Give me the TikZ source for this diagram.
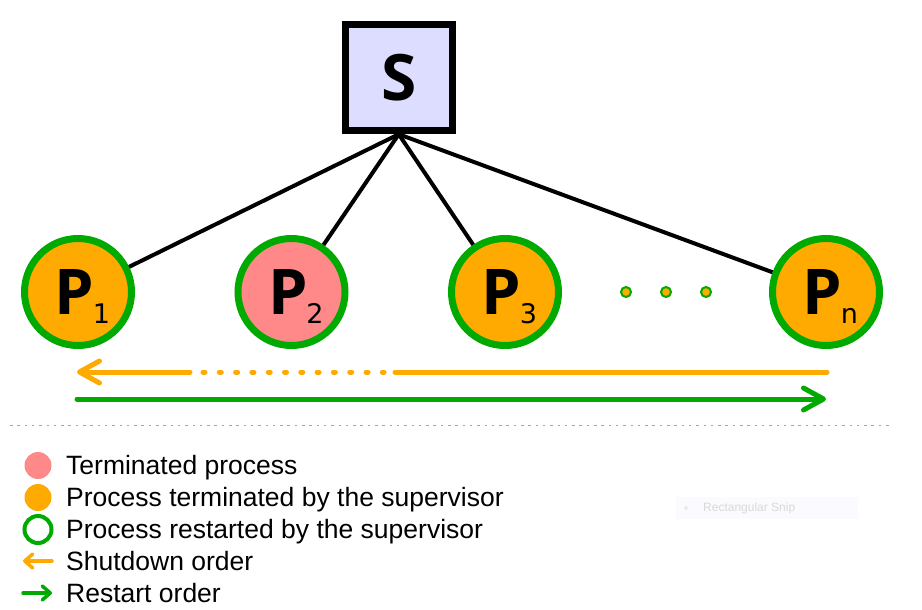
\documentclass[tikz,border=0pt]{standalone}
\usepackage{fontspec}
\setmainfont{Liberation Sans}
\newfontfamily\pfont{Open Sans}
\newfontfamily\subfont{DejaVu Sans}
\usetikzlibrary{arrows.meta}
\definecolor{orng}{HTML}{FFAA00}
\definecolor{grn}{HTML}{00AA00}
\definecolor{pnk}{HTML}{FF8888}
\definecolor{lav}{HTML}{DDDDFF}
\newcommand{\plabel}[1]{\hspace*{9pt}{\pfont\bfseries\fontsize{63}{63}\selectfont P\kern-1.5pt\raisebox{-9pt}{\subfont\mdseries\fontsize{27}{27}\selectfont #1}}}
\tikzset{
  proc/.style={circle, draw=grn, line width=7pt, minimum size=107pt, inner sep=0pt, text height=45pt, text depth=0pt},
  supbox/.style={rectangle, draw=black, fill=lav, line width=7pt, minimum size=106.5pt, inner sep=0pt},
  link/.style={line width=4pt, black},
  smalldot/.style={circle, draw=grn, fill=orng, line width=2pt, minimum size=10pt, inner sep=0pt},
  order/.style={line width=5pt, line cap=round},
  bigtip/.style={-{Straight Barb[length=20pt,width=22pt,round]}},
  legtxt/.style={anchor=base west, inner sep=0pt, font=\fontsize{26.5}{26.5}\selectfont},
  legtip/.style={-{Straight Barb[length=8pt,width=14pt,round]}, line width=3.5pt, line cap=round}
}
\begin{document}
\begin{tikzpicture}[x=1pt,y=-1pt]
\useasboundingbox[fill=white] (0,0) rectangle (922,610);
% supervisor
\node[supbox] (S) at (398.75,77.5) {\pfont\bfseries\fontsize{64}{64}\selectfont S};
% processes
\node[proc, fill=orng] (p1) at (78,292) {\plabel{1}};
\node[proc, fill=pnk]  (p2) at (291.5,292) {\plabel{2}};
\node[proc, fill=orng] (p3) at (505,292) {\plabel{3}};
\node[proc, fill=orng] (pn) at (826,292) {\plabel{n}};
\node[smalldot] (d1) at (626,292) {};
\node[smalldot] (d2) at (666,292) {};
\node[smalldot] (d3) at (706,292) {};
% links
\draw[link] (S.south) -- (p1);
\draw[link] (S.south) -- (p2);
\draw[link] (S.south) -- (p3);
\draw[link] (S.south) -- (pn);
% shutdown order
\coordinate (oa) at (827,372);
\coordinate (ob) at (395,372);
\coordinate (oc) at (384,372);
\coordinate (od) at (203,372);
\coordinate (oe) at (190,372);
\coordinate (of) at (77,372);
\draw[order, orng] (oa) -- (ob);
\draw[order, orng, dash pattern=on 2pt off 14.3pt] (od) -- (oc);
\draw[order, orng, bigtip] (oe) -- (of);
% restart order
\coordinate (ga) at (77,399);
\coordinate (gb) at (826,399);
\draw[order, grn, bigtip] (ga) -- (gb);
% separator
\coordinate (sa) at (10,425);
\coordinate (sb) at (892,425);
\draw[gray!70, line width=1pt, dash pattern=on 2.5pt off 4.8pt] (sa) -- (sb);
% legend
\node[circle, fill=pnk, minimum size=27pt, inner sep=0pt] (l1) at (38,465.5) {};
\node[circle, fill=orng, minimum size=27pt, inner sep=0pt] (l2) at (38,497.5) {};
\node[circle, draw=grn, line width=4pt, minimum size=27pt, inner sep=0pt] (l3) at (38,529.5) {};
\coordinate (l4a) at (52,561);
\coordinate (l4b) at (23,561);
\draw[legtip, orng] (l4a) -- (l4b);
\coordinate (l5a) at (23,593);
\coordinate (l5b) at (52,593);
\draw[legtip, grn] (l5a) -- (l5b);
\node[legtxt] (t1) at (66,474) {Terminated process};
\node[legtxt] (t2) at (66,506) {Process terminated by the supervisor};
\node[legtxt] (t3) at (66,538) {Process restarted by the supervisor};
\node[legtxt] (t4) at (66,570) {Shutdown order};
\node[legtxt] (t5) at (66,602) {Restart order};
% faint snip artifact
\node[rectangle, fill=blue!2, minimum width=182pt, minimum height=22pt, inner sep=0pt] (snip) at (767,508) {};
\node[circle, fill=black!8, minimum size=4pt, inner sep=0pt] (snipdot) at (686,508) {};
\node[anchor=west, inner sep=0pt, text=black!15, font=\fontsize{12}{12}\selectfont] (sniptxt) at (703,508) {Rectangular Snip};
\end{tikzpicture}
\end{document}
